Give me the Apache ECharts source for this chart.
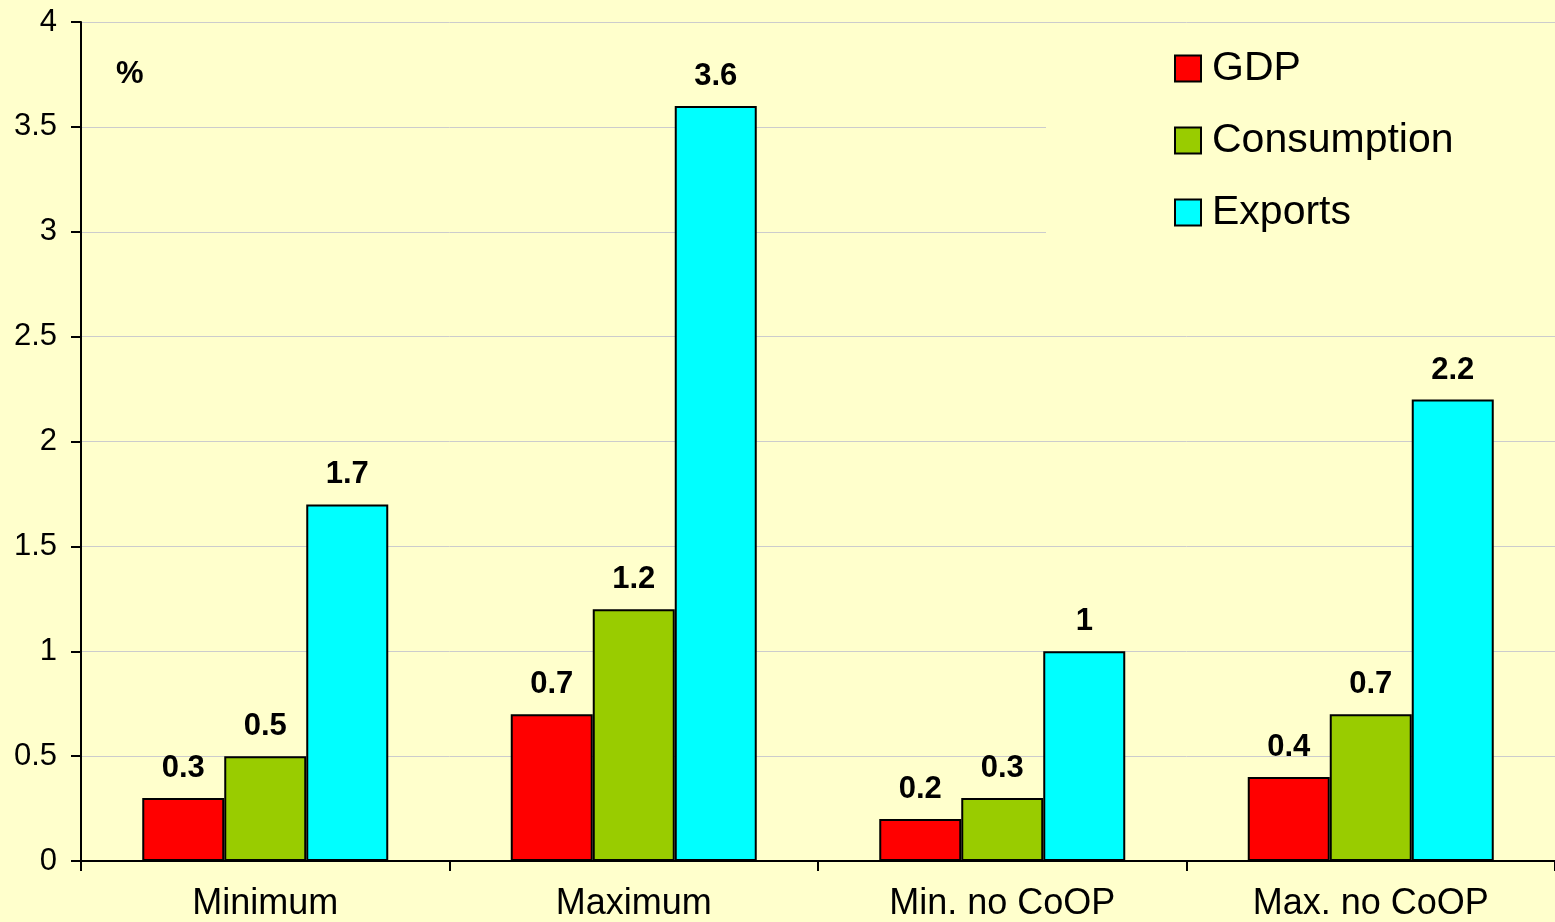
<!DOCTYPE html>
<html>
<head>
<meta charset="utf-8">
<style>
  html, body { margin: 0; padding: 0; background: #FFFFCC; }
  #chart { width: 1555px; height: 922px; }
</style>
<script src="https://cdn.jsdelivr.net/npm/echarts@6/dist/echarts.min.js"></script>
</head>
<body>
<div id="chart"></div>
<script>
// Scenario categories along the x axis
const categories = ['Minimum', 'Maximum', 'Min. no CoOP', 'Max. no CoOP'];

// Percentage changes per scenario
const gdp = [0.3, 0.7, 0.2, 0.4];
const consumption = [0.5, 1.2, 0.3, 0.7];
const exportsVals = [1.7, 3.6, 1.0, 2.2];

const seriesNames = ['GDP', 'Consumption', 'Exports'];
const seriesColors = ['#FF0000', '#99CC00', '#00FFFF'];
const seriesData = [gdp, consumption, exportsVals];

const chart = echarts.init(document.getElementById('chart'));

const labelFont = 'Arial, "Liberation Sans", sans-serif';

const series = seriesNames.map((name, i) => ({
  name: name,
  type: 'bar',
  data: seriesData[i],
  barWidth: 82,
  barGap: '0%',
  itemStyle: { color: seriesColors[i], borderColor: '#000', borderWidth: 2 },
  label: {
    show: true,
    position: 'top',
    distance: 14,
    color: '#000',
    fontFamily: labelFont,
    fontWeight: 'bold',
    fontSize: 31
  }
}));

chart.setOption({
  backgroundColor: '#FFFFCC',
  animation: false,
  grid: { left: 81, top: 22, right: -2, bottom: 58, containLabel: false },
  title: {
    text: '%',
    left: 116,
    top: 59,
    padding: 0,
    textStyle: { fontFamily: labelFont, fontWeight: 'bold', fontSize: 31, color: '#000' }
  },
  // plain panel behind the legend that hides the grid lines there
  graphic: [{
    type: 'rect',
    z: 3,
    silent: true,
    shape: { x: 1046, y: 32, width: 520, height: 270 },
    style: { fill: '#FFFFCC' }
  }],
  legend: {
    orient: 'vertical',
    left: 1174,
    top: 48,
    padding: 0,
    itemWidth: 26,
    itemHeight: 26,
    itemGap: 31,
    icon: 'rect',
    selectedMode: false,
    textStyle: { fontFamily: labelFont, fontSize: 41, color: '#000', padding: [0, 0, 0, 6] },
    data: seriesNames
  },
  xAxis: {
    type: 'category',
    data: categories,
    axisLine: { lineStyle: { color: '#000', width: 2 } },
    axisTick: { show: true, length: 10, lineStyle: { color: '#000', width: 2 } },
    axisLabel: { fontFamily: labelFont, fontSize: 36, color: '#000', margin: 25 }
  },
  yAxis: {
    type: 'value',
    min: 0,
    max: 4,
    interval: 0.5,
    axisLine: { show: true, lineStyle: { color: '#000', width: 2 } },
    axisTick: { show: true, length: 10, lineStyle: { color: '#000', width: 2 } },
    axisLabel: { fontFamily: labelFont, fontSize: 31, color: '#000', margin: 24 },
    splitLine: { lineStyle: { color: '#CCCCCC', width: 1 } }
  },
  series: series
});
</script>
</body>
</html>
